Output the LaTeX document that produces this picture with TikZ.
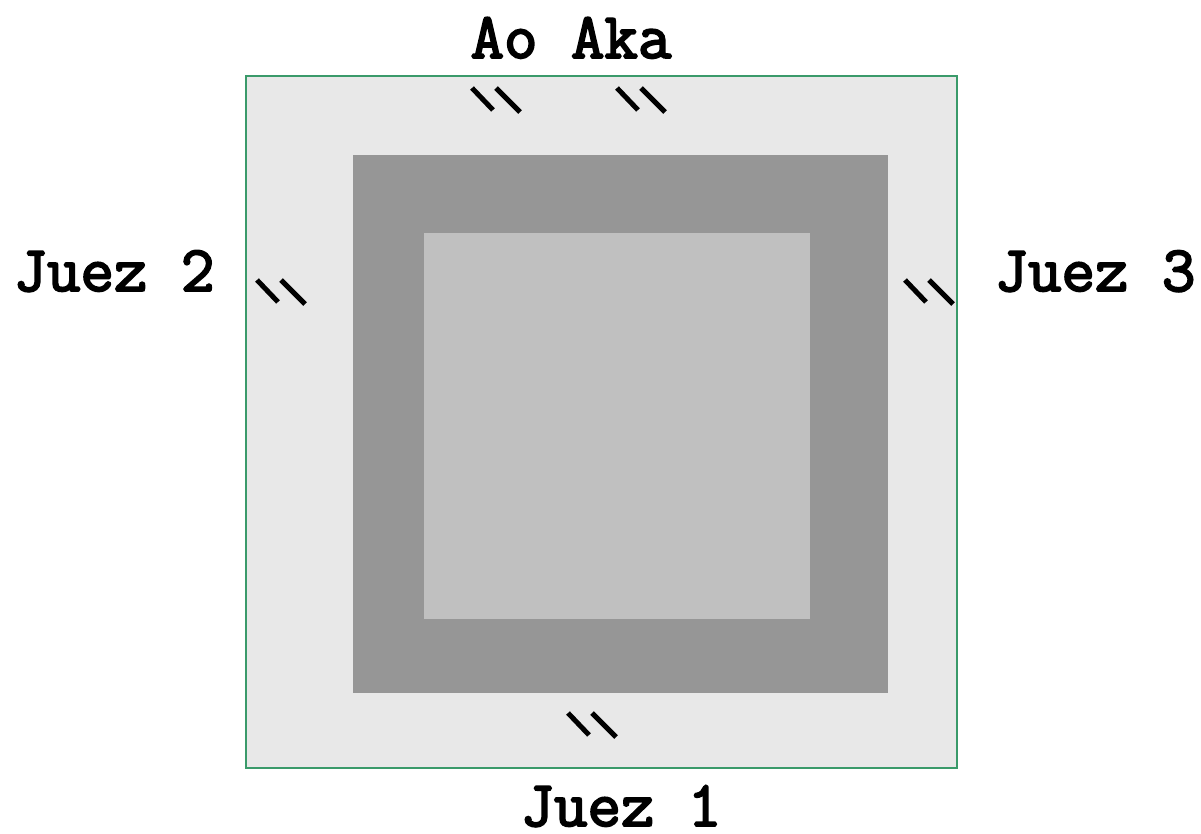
\documentclass[tikz,border=0pt]{standalone}
\usepackage{fontspec}
\newfontfamily\lblfont{Latin Modern Mono}[FakeBold=3]
\definecolor{ringgreen}{RGB}{58,154,106}
\definecolor{outerfill}{RGB}{232,232,232}
\definecolor{midfill}{RGB}{150,150,150}
\definecolor{innerfill}{RGB}{192,192,192}
\tikzset{
  lbl/.style={anchor=base, inner sep=0pt, font=\fontsize{65}{78}\selectfont\lblfont},
  tick/.style={line width=5pt, black}
}
\begin{document}
\begin{tikzpicture}[x=1pt,y=-1pt]
\useasboundingbox (0,0) rectangle (1201,834);
\fill[white] (0,0) rectangle (1201,834);
\filldraw[fill=outerfill, draw=ringgreen, line width=2pt] (246,76) rectangle (957,768);
\fill[midfill] (353,155) rectangle (888,693);
\fill[innerfill] (424,233) rectangle (810,619);
% ticks
\foreach \x/\y in {472/88, 617/88, 257/280, 905/280, 568/713}{
  \draw[tick] (\x,\y) -- ++(21,22);
  \draw[tick] (\x+24,\y) -- ++(24,24);
}
\node[lbl] (aoaka) at (571,58) {Ao Aka};
\node[lbl] (juez2) at (114,291) {Juez 2};
\node[lbl] (juez3) at (1095,291) {Juez 3};
\node[lbl] (juez1) at (621,826) {Juez 1};
\end{tikzpicture}
\end{document}
